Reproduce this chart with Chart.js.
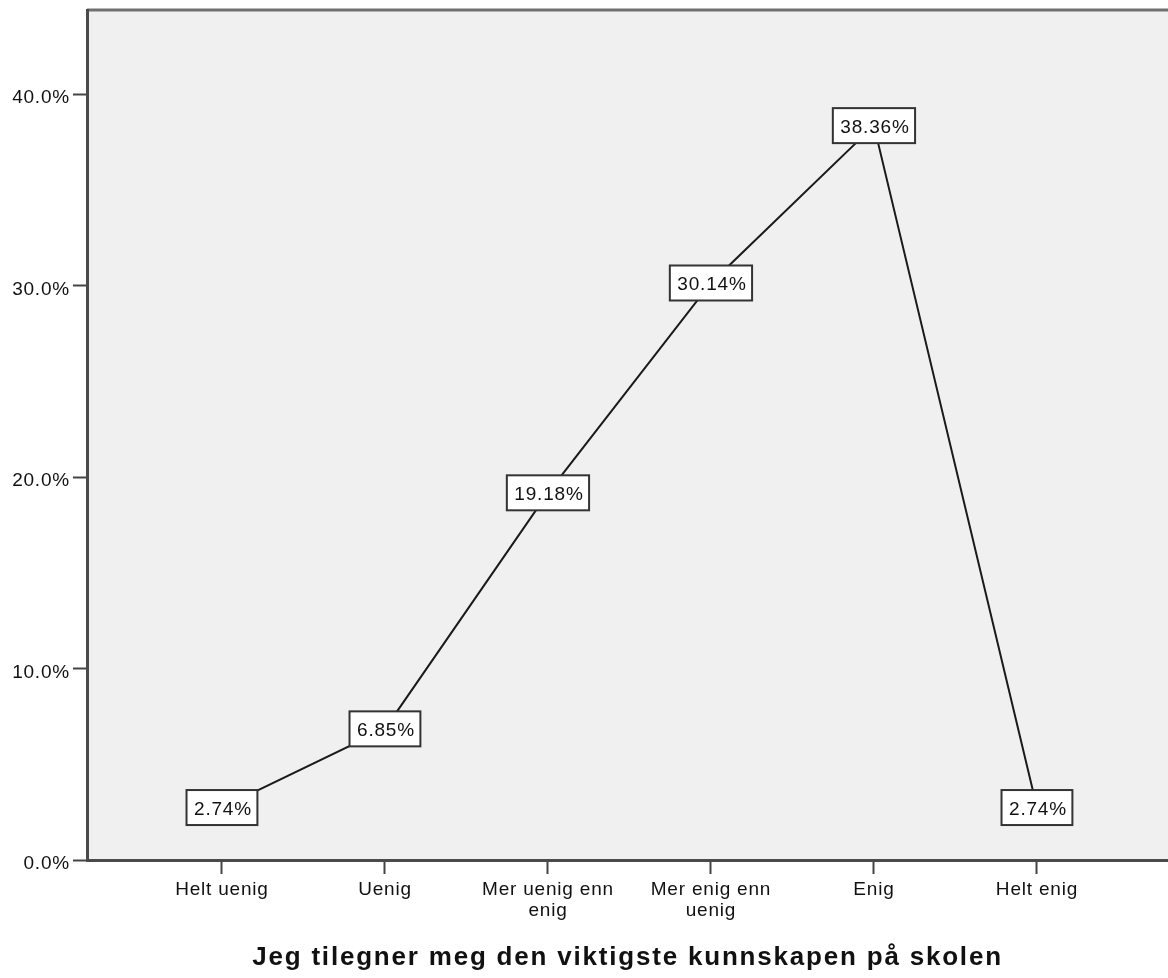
<!DOCTYPE html>
<html>
<head>
<meta charset="utf-8">
<script src="https://cdn.jsdelivr.net/npm/chart.js@4/dist/chart.umd.min.js"></script>
<style>
  html, body { margin: 0; padding: 0; background: #fff; }
  canvas { display: block; }
</style>
</head>
<body>
<canvas id="chart" width="1168" height="978"></canvas>
<script>
const categories = ["Helt uenig", "Uenig", ["Mer uenig enn", "enig"], ["Mer enig enn", "uenig"], "Enig", "Helt enig"];
const percents = [2.74, 6.85, 19.18, 30.14, 38.36, 2.74];
const yTicks = [0, 10, 20, 30, 40];
const axisTitle = "Jeg tilegner meg den viktigste kunnskapen på skolen";

const FONT = "'Liberation Sans', Arial, sans-serif";
const TEXT_SPACING = "0.8px";

// canvas state gets reset on resize, so keep putting the spacing back
const spacingPlugin = {
  id: "spacing",
  beforeUpdate(chart){ chart.ctx.letterSpacing = TEXT_SPACING; },
  beforeLayout(chart){ chart.ctx.letterSpacing = TEXT_SPACING; },
  beforeDraw(chart){ chart.ctx.letterSpacing = TEXT_SPACING; },
};

const framePlugin = {
  id: "frame",
  beforeDraw(chart){
    const { ctx, chartArea: a } = chart;
    ctx.save();
    ctx.fillStyle = "#f0f0f0";
    ctx.fillRect(a.left, a.top, a.right - a.left, a.bottom - a.top);
    ctx.strokeStyle = "#707070";
    ctx.lineWidth = 3;
    ctx.beginPath();
    ctx.moveTo(a.left, a.top);
    ctx.lineTo(a.right, a.top);
    ctx.stroke();
    ctx.restore();
  },
  afterDraw(chart){
    const { ctx, chartArea: a } = chart;
    ctx.save();
    ctx.letterSpacing = "1.8px";
    ctx.font = `bold 26px ${FONT}`;
    ctx.fillStyle = "#111";
    ctx.textAlign = "center";
    ctx.textBaseline = "alphabetic";
    ctx.fillText(axisTitle, (a.left + a.right) / 2, 965);
    ctx.restore();
  },
};

const boxLabelPlugin = {
  id: "boxLabels",
  afterDatasetsDraw(chart){
    const { ctx } = chart;
    const meta = chart.getDatasetMeta(0);
    ctx.save();
    ctx.letterSpacing = TEXT_SPACING;
    ctx.font = `19px ${FONT}`;
    meta.data.forEach((pt, i) => {
      const txt = percents[i].toFixed(2) + "%";
      const w = ctx.measureText(txt).width + 13;
      const h = 35;
      const x = pt.x - w / 2;
      const y = pt.y - h / 2;
      ctx.fillStyle = "#fff";
      ctx.fillRect(x, y, w, h);
      ctx.strokeStyle = "#333";
      ctx.lineWidth = 2;
      ctx.strokeRect(x, y, w, h);
      ctx.fillStyle = "#111";
      ctx.textAlign = "center";
      ctx.textBaseline = "middle";
      ctx.fillText(txt, pt.x + 1, pt.y + 2);
    });
    ctx.restore();
  },
};

new Chart(document.getElementById("chart"), {
  type: "line",
  data: {
    datasets: [{
      data: percents.map((v, i) => ({ x: i, y: v })),
      borderColor: "#1a1a1a",
      borderWidth: 2,
      pointRadius: 0,
      tension: 0,
      fill: false,
    }],
  },
  options: {
    responsive: false,
    animation: false,
    devicePixelRatio: 1,
    layout: { padding: { top: 10, right: 0, left: 0, bottom: 0 } },
    plugins: { legend: { display: false }, tooltip: { enabled: false } },
    scales: {
      x: {
        type: "linear",
        min: -0.828,
        max: 5.804,
        afterBuildTicks(scale){ scale.ticks = categories.map((_, i) => ({ value: i })); },
        afterFit(scale){ scale.height = 118; scale.paddingLeft = 0; scale.paddingRight = 0; },
        grid: { drawOnChartArea: false, drawTicks: true, tickLength: 14, tickWidth: 2, tickColor: "#444" },
        border: { display: true, color: "#4a4a4a", width: 3 },
        ticks: {
          autoSkip: false,
          maxRotation: 0,
          padding: 5,
          color: "#111",
          font: { family: FONT, size: 19, lineHeight: 1.12 },
          callback: (v) => categories[v],
        },
      },
      y: {
        min: 0,
        max: 44.4,
        afterBuildTicks(scale){ scale.ticks = yTicks.map((v) => ({ value: v })); },
        afterFit(scale){ scale.width = 87; scale.paddingTop = 0; scale.paddingBottom = 0; },
        grid: { drawOnChartArea: false, drawTicks: true, tickLength: 14, tickWidth: 2, tickColor: "#444" },
        border: { display: true, color: "#4a4a4a", width: 3 },
        ticks: {
          padding: 3,
          labelOffset: 4,
          color: "#111",
          font: { family: FONT, size: 19 },
          callback: (v) => v.toFixed(1) + "%",
        },
      },
    },
  },
  plugins: [spacingPlugin, framePlugin, boxLabelPlugin],
});
</script>
</body>
</html>
